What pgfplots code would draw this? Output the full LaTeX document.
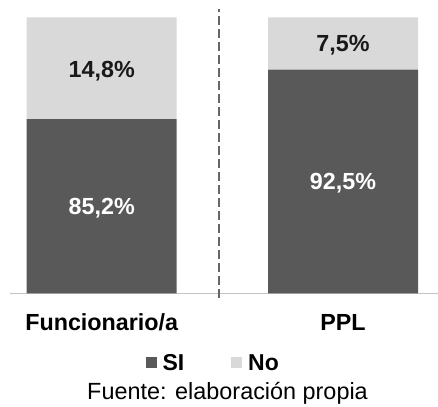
\documentclass[border=0pt]{standalone}
\usepackage{fontspec}
\setmainfont{Liberation Sans}
\usepackage{pgfplots}
\pgfplotsset{compat=1.18}
\definecolor{si}{HTML}{595959}
\definecolor{no}{HTML}{D9D9D9}
\definecolor{axgray}{HTML}{C4C4C4}
\definecolor{dashgray}{HTML}{666666}
\begin{document}
\begin{tikzpicture}
\pgfplotsset{base/.style={at={(10pt,112.7pt)}, anchor=south west, scale only axis,
  width=428pt, height=276pt, xmin=-0.38, xmax=1.3937, ymin=0, ymax=100, clip=false}}
\begin{axis}[base, ybar stacked, bar width=150pt,
  axis y line=none, axis x line*=bottom,
  x axis line style={draw=axgray, line width=1.5pt, -},
  xtick={0,1}, xticklabels={Funcionario/a,PPL}, major tick length=0pt,
  xtick style={draw=none},
  xticklabel style={font=\fontsize{23.3}{28}\selectfont\bfseries, anchor=base, yshift=-37.4pt},
  legend style={at={(0.4736,-0.2525)}, anchor=center, draw=none, fill=none,
    legend columns=2, font=\fontsize{23}{28}\selectfont\bfseries,
    nodes={inner sep=1pt},
    /tikz/every odd column/.append style={column sep=5pt},
    /tikz/every even column/.append style={column sep=46pt}},
  legend image code/.code={\fill[#1] (0pt,-5.5pt) rectangle (11pt,5.5pt);},
]
\addplot[fill=si, draw=none] coordinates {(0,63.15) (1,81.0)};
\addplot[fill=no, draw=none] coordinates {(0,36.85) (1,19.0)};
\legend{SI,No}
\draw[dashgray, line width=2.4pt, dash pattern=on 9pt off 4pt] (axis cs:0.487,-1.7) -- (axis cs:0.487,103.0);
\end{axis}
\begin{axis}[base, hide axis]
\addplot[draw=none, mark=none, nodes near coords, point meta=explicit symbolic,
  nodes near coords align={center},
  every node near coord/.append style={font=\fontsize{23.3}{28}\selectfont\bfseries, text=black!90}]
  coordinates {(0,80.6) [14,8\%] (1,89.8) [7,5\%]};
\addplot[draw=none, mark=none, nodes near coords, point meta=explicit symbolic,
  nodes near coords align={center},
  every node near coord/.append style={font=\fontsize{23.3}{28}\selectfont\bfseries, text=white}]
  coordinates {(0,30.9) [85,2\%] (1,40.0) [92,5\%]};
\end{axis}
\node[anchor=base, font=\fontsize{23.4}{28}\selectfont] at (227.5pt,6pt) {Fuente: elaboración propia};
\pgfresetboundingbox
\useasboundingbox (0,0) rectangle (438pt,406pt);
\end{tikzpicture}
\end{document}
